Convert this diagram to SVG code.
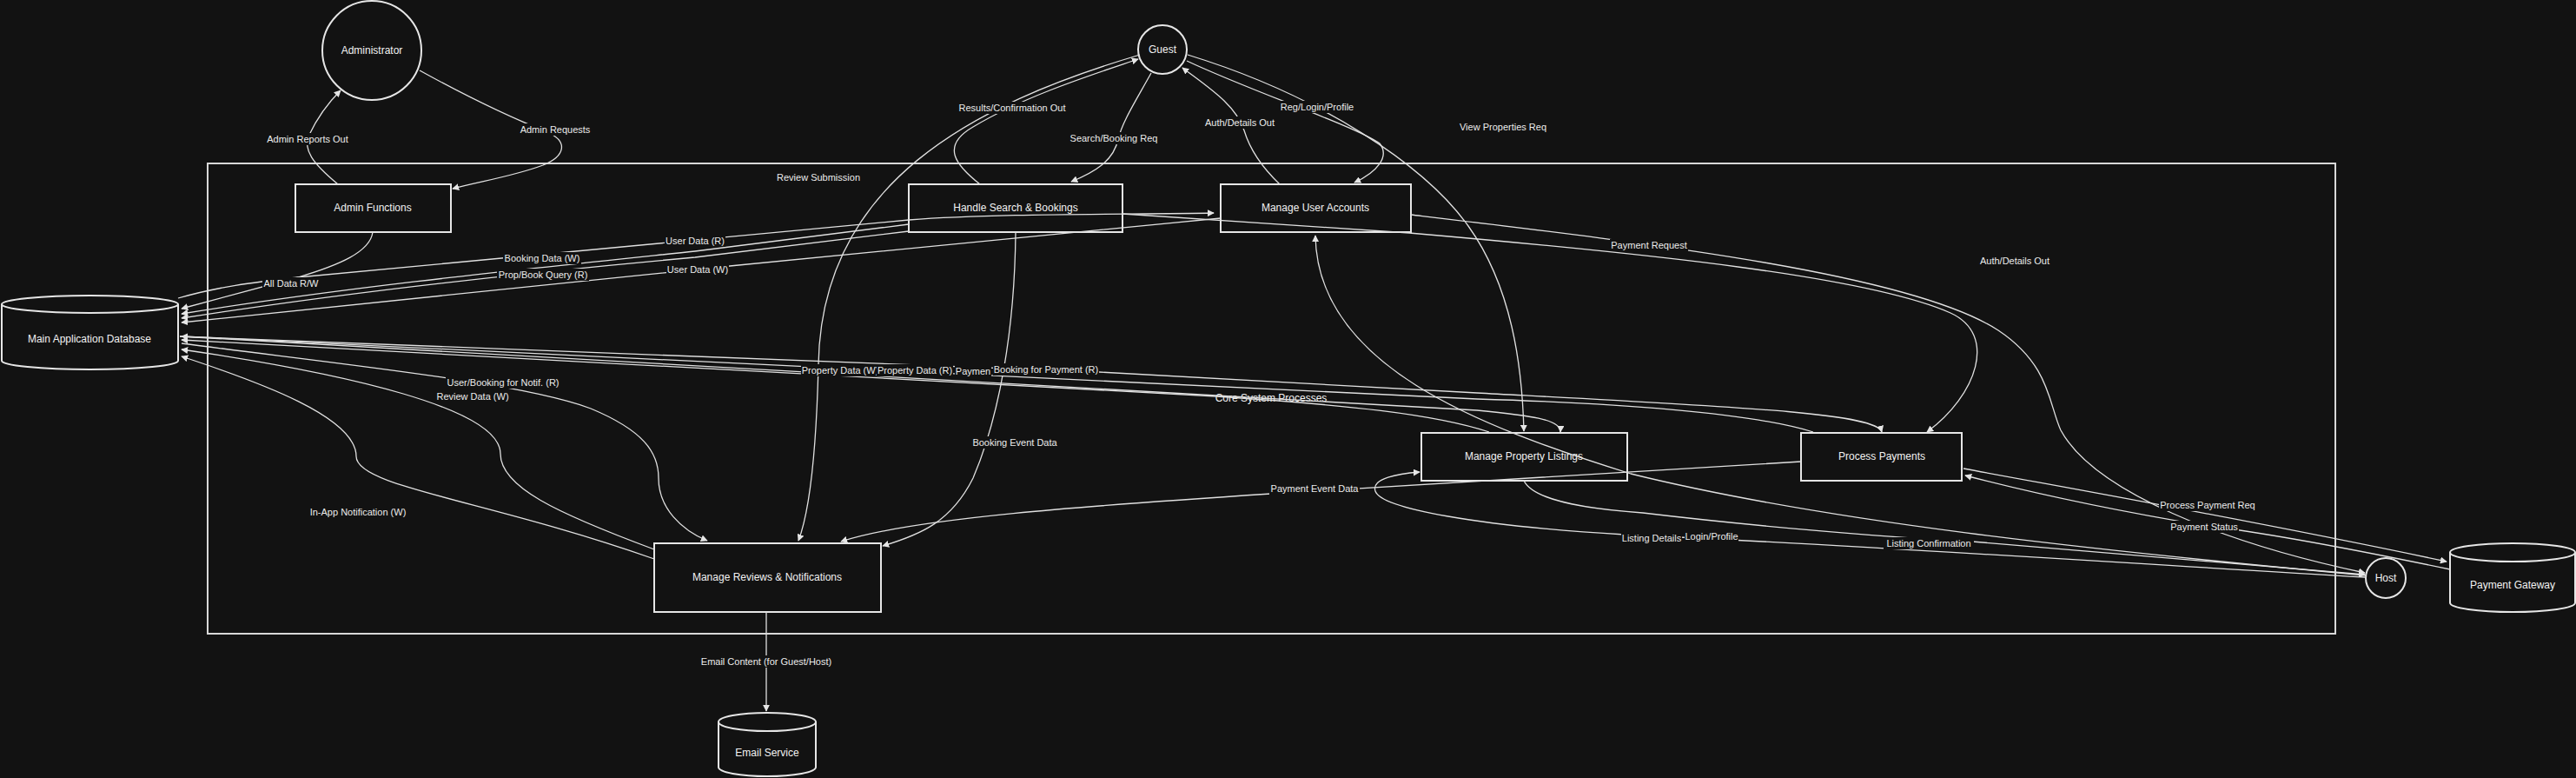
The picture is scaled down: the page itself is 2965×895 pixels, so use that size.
<svg xmlns="http://www.w3.org/2000/svg" width="2965" height="895" viewBox="0 0 2965 895">
<defs>
<style>
.nd{fill:#121212;stroke:#e6e6e6;stroke-width:2}
.sg{fill:none;stroke:#d8d8d8;stroke-width:2}
.nt{font-family:"Liberation Sans",Arial,sans-serif;font-size:12px;fill:#f2f2f2;text-anchor:middle;dominant-baseline:central}
.ed{fill:none;stroke:#e0e0e0;stroke-width:1.3}
.ar{marker-end:url(#arr)}
.el rect{fill:#121212}
.el text{font-family:"Liberation Sans",Arial,sans-serif;font-size:11px;fill:#ececec;text-anchor:middle;dominant-baseline:central}
</style>
<marker id="arr" viewBox="0 0 10 10" refX="9" refY="5" markerWidth="8" markerHeight="8" markerUnits="userSpaceOnUse" orient="auto"><path d="M0,0 L10,5 L0,10 z" fill="#e6e6e6"/></marker>
</defs>
<rect x="0" y="0" width="2965" height="895" fill="#121212"/>

<g id="core-system-processes">
<rect class="sg" x="239" y="188" width="2449" height="541"/>
<text class="nt" x="1463" y="458">Core System Processes</text>
</g>

<g id="nodes">
<g id="administrator"><circle class="nd" cx="428" cy="58" r="57"/><text class="nt" x="428" y="58">Administrator</text></g>
<g id="guest"><circle class="nd" cx="1338" cy="57" r="28"/><text class="nt" x="1338" y="57">Guest</text></g>
<g id="host"><circle class="nd" cx="2746" cy="665" r="23"/><text class="nt" x="2746" y="665">Host</text></g>
<g id="main-db"><path class="nd" d="M2,350 a101.5,10 0 0,0 203,0 a101.5,10 0 0,0 -203,0 l0,65 a101.5,10 0 0,0 203,0 l0,-65"/><text class="nt" x="103" y="390">Main Application Database</text></g>
<g id="payment-gateway"><path class="nd" d="M2820,635.5 a72,10.5 0 0,0 144,0 a72,10.5 0 0,0 -144,0 l0,58 a72,10.5 0 0,0 144,0 l0,-58"/><text class="nt" x="2892" y="673">Payment Gateway</text></g>
<g id="email-service"><path class="nd" d="M827,830.5 a56,10.5 0 0,0 112,0 a56,10.5 0 0,0 -112,0 l0,52 a56,10.5 0 0,0 112,0 l0,-52"/><text class="nt" x="883" y="866">Email Service</text></g>
<g id="admin-functions"><rect class="nd" x="340" y="212" width="179" height="55"/><text class="nt" x="429" y="239">Admin Functions</text></g>
<g id="handle-search-bookings"><rect class="nd" x="1046" y="212" width="246" height="55"/><text class="nt" x="1169" y="239">Handle Search &amp; Bookings</text></g>
<g id="manage-user-accounts"><rect class="nd" x="1405" y="212" width="219" height="55"/><text class="nt" x="1514" y="239">Manage User Accounts</text></g>
<g id="manage-property-listings"><rect class="nd" x="1636" y="498" width="237" height="55"/><text class="nt" x="1754" y="525">Manage Property Listings</text></g>
<g id="process-payments"><rect class="nd" x="2073" y="498" width="185" height="55"/><text class="nt" x="2166" y="525">Process Payments</text></g>
<g id="manage-reviews-notifications"><rect class="nd" x="753" y="625" width="261" height="79"/><text class="nt" x="883" y="664">Manage Reviews &amp; Notifications</text></g>
</g>

<g id="connectors">
<path class="ed ar" d="M389,212 C360,188 348,172 356,155 C364,138 378,118 392,104"/>
<path class="ed ar" d="M483,81 C550,118 600,140 630,152 C655,163 650,180 625,190 C590,203 555,208 521,217"/>
<path class="ed ar" d="M429,267 C426,290 390,305 343,319 L209,355"/>
<path class="ed ar" d="M205,343 C250,330 290,325 343,319 L1046,253 C1150,245 1300,247 1397,245"/>
<path class="ed ar" d="M1046,258 L800,289 C600,310 400,330 209,361"/>
<path class="ed ar" d="M1046,266 L800,296 C600,314 400,336 209,366"/>
<path class="ed ar" d="M1405,251 L840,306 C600,330 400,352 209,371"/>
<path class="ed ar" d="M1128,212 C1100,190 1082,168 1120,146 C1180,110 1260,85 1310,68"/>
<path class="ed ar" d="M1312,63 C1120,120 945,210 942,420 C940,500 935,580 919,622"/>
<path class="ed ar" d="M1325,84 C1305,120 1292,140 1287,160 C1282,185 1260,198 1233,209"/>
<path class="ed ar" d="M1473,212 C1450,190 1438,170 1432,150 C1422,120 1390,100 1361,78"/>
<path class="ed ar" d="M1366,70 C1440,105 1560,145 1588,165 C1600,180 1585,198 1559,210"/>
<path class="ed ar" d="M1367,63 C1520,110 1640,190 1690,260 C1740,330 1752,420 1754,496"/>
<path class="ed ar" d="M2723,662 C2400,632 2100,600 1877,545 C1700,490 1516,420 1514,271"/>
<path class="ed ar" d="M1624,247 C1900,280 2200,315 2300,380 C2360,420 2358,465 2372,495 C2410,565 2560,625 2722,659"/>
<path class="ed ar" d="M1292,246 L1622,268 C1900,292 2150,318 2245,360 C2300,385 2275,455 2218,497"/>
<path class="ed ar" d="M207,387 L1265,428 L1700,452 C2000,468 2160,475 2166,497"/>
<path class="ed ar" d="M2087,497 C2000,470 1800,462 1700,459 L209,387"/>
<path class="ed ar" d="M207,387 L1700,472 C1760,478 1797,482 1796,497"/>
<path class="ed ar" d="M1714,497 C1650,476 1550,466 1400,456 L209,391"/>
<path class="ed ar" d="M209,395 C400,420 600,440 680,470 C740,495 758,520 758,550 C758,585 785,610 814,622"/>
<path class="ed ar" d="M753,632 C640,590 576,560 576,522 C576,470 400,430 209,402"/>
<path class="ed ar" d="M753,643 C560,575 410,560 410,525 C410,480 300,440 209,410"/>
<path class="ed ar" d="M1169,267 C1168,380 1150,480 1120,550 C1095,600 1060,615 1016,628"/>
<path class="ed ar" d="M2073,531 L1463,568 C1250,582 1050,596 968,623"/>
<path class="ed ar" d="M2722,664 C2400,645 2100,625 1870,615 C1700,605 1590,585 1583,565 C1578,550 1610,545 1634,543"/>
<path class="ed ar" d="M1754,553 C1765,575 1820,585 1891,590 C2000,603 2150,617 2270,623 L2722,661"/>
<path class="ed ar" d="M2260,539 C2400,565 2600,600 2816,646"/>
<path class="ed ar" d="M2820,655 C2700,630 2600,612 2540,605 C2450,590 2350,570 2262,547"/>
<path class="ed ar" d="M882,704 L882,818"/>
</g>

<g id="edge-labels">
<g class="el" transform="translate(354,160)"><rect x="-48" y="-7" width="96" height="14"/><text>Admin Reports Out</text></g>
<g class="el" transform="translate(639,149)"><rect x="-42" y="-7" width="84" height="14"/><text>Admin Requests</text></g>
<g class="el" transform="translate(335,326)"><rect x="-33" y="-7" width="66" height="14"/><text>All Data R/W</text></g>
<g class="el" transform="translate(624,297)"><rect x="-45" y="-7" width="90" height="14"/><text>Booking Data (W)</text></g>
<g class="el" transform="translate(625,316)"><rect x="-53" y="-7" width="106" height="14"/><text>Prop/Book Query (R)</text></g>
<g class="el" transform="translate(800,277)"><rect x="-35" y="-7" width="70" height="14"/><text>User Data (R)</text></g>
<g class="el" transform="translate(803,310)"><rect x="-36" y="-7" width="72" height="14"/><text>User Data (W)</text></g>
<g class="el" transform="translate(1165,124)"><rect x="-63" y="-7" width="126" height="14"/><text>Results/Confirmation Out</text></g>
<g class="el" transform="translate(1282,159)"><rect x="-52" y="-7" width="104" height="14"/><text>Search/Booking Req</text></g>
<g class="el" transform="translate(1427,141)"><rect x="-41" y="-7" width="82" height="14"/><text>Auth/Details Out</text></g>
<g class="el" transform="translate(1516,123)"><rect x="-43" y="-7" width="86" height="14"/><text>Reg/Login/Profile</text></g>
<g class="el" transform="translate(1730,146)"><rect x="-51" y="-7" width="102" height="14"/><text>View Properties Req</text></g>
<g class="el" transform="translate(942,204)"><rect x="-49" y="-7" width="98" height="14"/><text>Review Submission</text></g>
<g class="el" transform="translate(1898,282)"><rect x="-45" y="-7" width="90" height="14"/><text>Payment Request</text></g>
<g class="el" transform="translate(2319,300)"><rect x="-41" y="-7" width="82" height="14"/><text>Auth/Details Out</text></g>
<g class="el" transform="translate(967,426)"><rect x="-45" y="-7" width="90" height="14"/><text>Property Data (W)</text></g>
<g class="el" transform="translate(1053,426)"><rect x="-44" y="-7" width="88" height="14"/><text>Property Data (R)</text></g>
<g class="el" transform="translate(1120,427)"><rect x="-21" y="-7" width="42" height="14"/><text>Paymen</text></g>
<g class="el" transform="translate(1204,425)"><rect x="-61" y="-7" width="122" height="14"/><text>Booking for Payment (R)</text></g>
<g class="el" transform="translate(579,440)"><rect x="-66" y="-7" width="132" height="14"/><text>User/Booking for Notif. (R)</text></g>
<g class="el" transform="translate(544,456)"><rect x="-43" y="-7" width="86" height="14"/><text>Review Data (W)</text></g>
<g class="el" transform="translate(412,589)"><rect x="-57" y="-7" width="114" height="14"/><text>In-App Notification (W)</text></g>
<g class="el" transform="translate(1168,509)"><rect x="-50" y="-7" width="100" height="14"/><text>Booking Event Data</text></g>
<g class="el" transform="translate(1513,562)"><rect x="-52" y="-7" width="104" height="14"/><text>Payment Event Data</text></g>
<g class="el" transform="translate(1901,619)"><rect x="-35" y="-7" width="70" height="14"/><text>Listing Details</text></g>
<g class="el" transform="translate(1970,617)"><rect x="-31" y="-7" width="62" height="14"/><text>Login/Profile</text></g>
<g class="el" transform="translate(2220,625)"><rect x="-52" y="-7" width="104" height="14"/><text>Listing Confirmation</text></g>
<g class="el" transform="translate(2541,581)"><rect x="-56" y="-7" width="112" height="14"/><text>Process Payment Req</text></g>
<g class="el" transform="translate(2537,606)"><rect x="-40" y="-7" width="80" height="14"/><text>Payment Status</text></g>
<g class="el" transform="translate(882,761)"><rect x="-76" y="-7" width="152" height="14"/><text>Email Content (for Guest/Host)</text></g>
</g>
</svg>
